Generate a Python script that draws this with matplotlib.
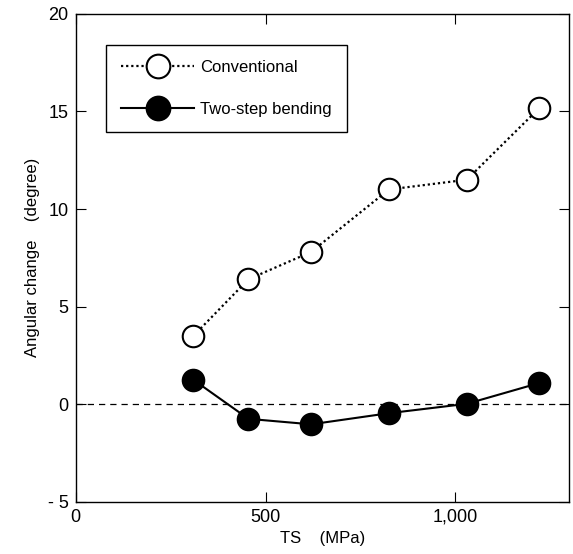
import matplotlib
matplotlib.use("Agg")
import matplotlib.pyplot as plt

ts = [310, 455, 620, 825, 1030, 1220]
conventional = [3.5, 6.4, 7.8, 11.0, 11.5, 15.15]
two_step = [1.25, -0.75, -1.03, -0.46, 0.02, 1.08]

x_ticks = [0, 500, 1000]
x_tick_labels = ["0", "500", "1,000"]
y_ticks = [-5, 0, 5, 10, 15, 20]
y_tick_labels = ["- 5", "0", "5", "10", "15", "20"]

plt.rcParams['font.family'] = ['Liberation Sans', 'DejaVu Sans']

fig = plt.figure(figsize=(5.73, 5.54), dpi=100)
ax = fig.add_axes([0.1321, 0.0942, 0.8614, 0.8809])

ax.axhline(0, color='black', lw=0.9, ls=(0, (5, 4)), zorder=1)

ax.plot(ts, conventional, ls=(0, (1, 1.3)), lw=1.6, color='black',
        marker='o', ms=15.5, mfc='white', mec='black', mew=1.5,
        label='Conventional', zorder=3)
ax.plot(ts, two_step, ls='-', lw=1.5, color='black',
        marker='o', ms=15.5, mfc='black', mec='black', mew=1.5,
        label='Two-step bending', zorder=3)

ax.set_xlim(0, 1300)
ax.set_ylim(-5, 20)
ax.set_xticks(x_ticks)
ax.set_xticklabels(x_tick_labels)
ax.set_yticks(y_ticks)
ax.set_yticklabels(y_tick_labels)
ax.tick_params(direction='in', length=7, width=0.8, top=True, right=True,
               labelsize=13, pad=5)
for s in ax.spines.values():
    s.set_linewidth(1.0)

ax.set_xlabel("TS    (MPa)", fontsize=12, labelpad=4)
ax.set_ylabel("Angular change    (degree)", fontsize=12, labelpad=6)

leg = ax.legend(loc='upper left', bbox_to_anchor=(0.0614, 0.9367),
                borderaxespad=0, fancybox=False, framealpha=1,
                edgecolor='black', fontsize=12, handlelength=4.4,
                handletextpad=0.35, labelspacing=1.65, borderpad=0.9,
                markerscale=1.1)
leg.get_frame().set_linewidth(1.0)

fig.savefig("out.png", dpi=100)
